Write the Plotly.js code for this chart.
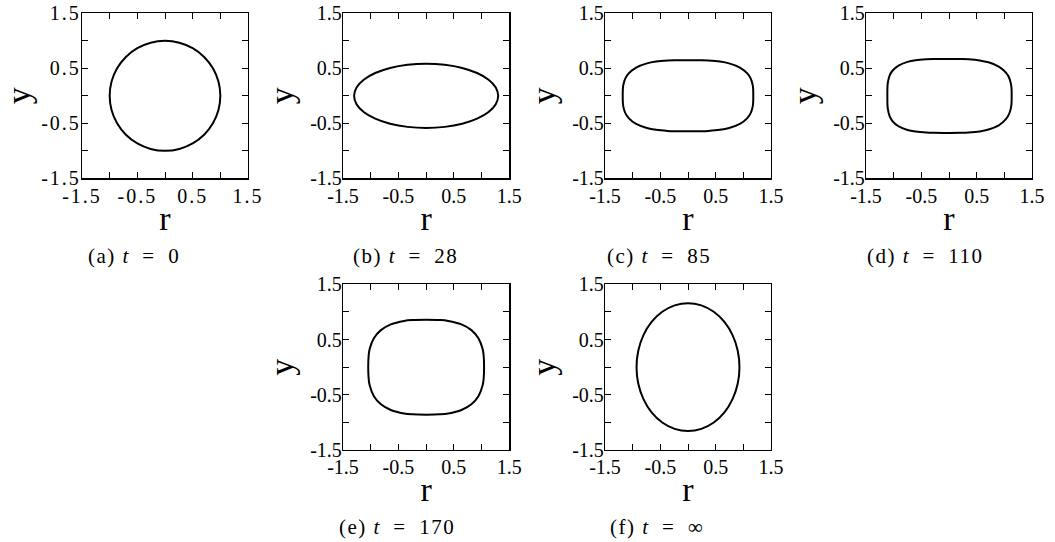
<!DOCTYPE html>
<html><head><meta charset="utf-8">
<script src="https://cdn.plot.ly/plotly-3.0.1.min.js"></script>
<style>
html,body{margin:0;padding:0;background:#fff;}
#chart{width:1055px;height:542px;}
.xtick text,.ytick text{letter-spacing:2px;}
.annotation-text{letter-spacing:1.5px;}
</style></head><body><div id="chart"></div><script>
// Tick values and labels (shared by all panels)
var tickVals = [-1.5, -1, -0.5, 0, 0.5, 1, 1.5];
var tickText = ['-1.5', '', '-0.5', '', '0.5', '', '1.5'];

// Panel captions
var panelLabels = ['(a)', '(b)', '(c)', '(d)', '(e)', '(f)'];
var timeLabels = ['0', '28', '85', '110', '170', '\u221e'];

// (a) t = 0
var rA = [1, 0.966, 0.866, 0.707, 0.5, 0.259, 0, -0.259, -0.5, -0.707, -0.866, -0.966, -1, -0.966, -0.866, -0.707, -0.5, -0.259, 0, 0.259, 0.5, 0.707, 0.866, 0.966, 1];
var yA = [0, 0.259, 0.5, 0.707, 0.866, 0.966, 1, 0.966, 0.866, 0.707, 0.5, 0.259, 0, -0.259, -0.5, -0.707, -0.866, -0.966, -1, -0.966, -0.866, -0.707, -0.5, -0.259, 0];

// (b) t = 28
var rB = [1.30, 1.256, 1.126, 0.919, 0.65, 0.336, 0, -0.336, -0.65, -0.919, -1.126, -1.256, -1.30, -1.256, -1.126, -0.919, -0.65, -0.336, 0, 0.336, 0.65, 0.919, 1.126, 1.256, 1.30];
var yB = [0, 0.152, 0.293, 0.414, 0.507, 0.565, 0.585, 0.565, 0.507, 0.414, 0.293, 0.152, 0, -0.152, -0.293, -0.414, -0.507, -0.565, -0.585, -0.565, -0.507, -0.414, -0.293, -0.152, 0];

// (c) t = 85
var rC = [1.18, 1.177, 1.168, 1.132, 1.072, 0.937, 0.743, 0.577, 0.367, 0.232, 0, -0.232, -0.367, -0.577, -0.743, -0.937, -1.072, -1.132, -1.168, -1.177, -1.18, -1.177, -1.168, -1.132, -1.072, -0.937, -0.743, -0.577, -0.367, -0.232, 0, 0.232, 0.367, 0.577, 0.743, 0.937, 1.072, 1.132, 1.168, 1.177, 1.18];
var yC = [0, 0.127, 0.202, 0.317, 0.408, 0.514, 0.589, 0.622, 0.641, 0.646, 0.648, 0.646, 0.641, 0.622, 0.589, 0.514, 0.408, 0.317, 0.202, 0.127, 0, -0.126, -0.201, -0.315, -0.406, -0.512, -0.586, -0.619, -0.638, -0.643, -0.645, -0.643, -0.638, -0.619, -0.586, -0.512, -0.406, -0.315, -0.201, -0.126, 0];

// (d) t = 110
var rD = [1.133, 1.13, 1.121, 1.087, 1.029, 0.899, 0.714, 0.554, 0.352, 0.223, 0, -0.276, -0.41, -0.604, -0.75, -0.913, -1.026, -1.075, -1.104, -1.112, -1.114, -1.112, -1.104, -1.075, -1.026, -0.913, -0.75, -0.604, -0.41, -0.276, 0, 0.223, 0.352, 0.554, 0.714, 0.899, 1.029, 1.087, 1.121, 1.13, 1.133];
var yD = [0, 0.132, 0.208, 0.328, 0.422, 0.532, 0.609, 0.643, 0.663, 0.668, 0.67, 0.669, 0.664, 0.647, 0.617, 0.549, 0.451, 0.363, 0.247, 0.166, 0, -0.167, -0.248, -0.366, -0.455, -0.554, -0.622, -0.651, -0.669, -0.674, -0.675, -0.673, -0.668, -0.648, -0.613, -0.536, -0.425, -0.33, -0.21, -0.133, 0];

// (e) t = 170
var rE = [1.045, 1.038, 1.019, 0.943, 0.816, 0.637, 0.398, 0.244, 0, -0.244, -0.398, -0.637, -0.816, -0.943, -1.019, -1.038, -1.045, -1.038, -1.019, -0.943, -0.816, -0.637, -0.398, -0.244, 0, 0.244, 0.398, 0.637, 0.816, 0.943, 1.019, 1.038, 1.045];
var yE = [0, 0.2, 0.327, 0.523, 0.67, 0.774, 0.837, 0.853, 0.858, 0.853, 0.837, 0.774, 0.67, 0.523, 0.327, 0.2, 0, -0.2, -0.328, -0.525, -0.672, -0.776, -0.839, -0.855, -0.86, -0.855, -0.839, -0.776, -0.672, -0.525, -0.328, -0.2, 0];

// (f) t = infinity
var rF = [0.93, 0.898, 0.805, 0.658, 0.465, 0.241, 0, -0.241, -0.465, -0.658, -0.805, -0.898, -0.93, -0.898, -0.805, -0.658, -0.465, -0.241, 0, 0.241, 0.465, 0.658, 0.805, 0.898, 0.93];
var yF = [0, 0.3, 0.579, 0.818, 1.002, 1.118, 1.157, 1.118, 1.002, 0.818, 0.579, 0.3, 0, -0.3, -0.579, -0.818, -1.002, -1.118, -1.157, -1.118, -1.002, -0.818, -0.579, -0.3, 0];

var curvesR = [rA, rB, rC, rD, rE, rF];
var curvesY = [yA, yB, yC, yD, yE, yF];

var W = 1055, H = 542;
// plot-box pixel boxes [left, right, top, bottom]
var boxes = [
  [82, 248, 13.3, 178.3],
  [343, 509.3, 13.3, 178.3],
  [605, 771, 13.3, 178.3],
  [866, 1032, 13.3, 178.3],
  [343, 509.3, 284.3, 450],
  [605, 771, 284.3, 450]
];
var captionPos = [[134, 256], [405, 256], [659, 256], [925, 256], [396.5, 527], [657, 527]];

var serif = '"Liberation Serif", "Times New Roman", serif';
var traces = [], layout = {
  width: W, height: H,
  margin: {l: 0, r: 0, t: 0, b: 0},
  paper_bgcolor: '#fff', plot_bgcolor: '#fff',
  showlegend: false,
  annotations: []
};

for (var i = 0; i < 6; i++) {
  var sfx = i === 0 ? '' : String(i + 1);
  traces.push({
    type: 'scatter', mode: 'lines',
    x: curvesR[i], y: curvesY[i],
    xaxis: 'x' + sfx, yaxis: 'y' + sfx,
    line: {color: '#000', width: 2, shape: 'spline', smoothing: 1, simplify: false},
    hoverinfo: 'skip'
  });
  var b = boxes[i];
  var common = {
    range: [-1.5, 1.5], tickmode: 'array', tickvals: tickVals, ticktext: tickText,
    ticks: 'inside', ticklen: 6, tickwidth: 1, tickcolor: '#000',
    showline: true, linecolor: '#000', linewidth: 1.2, mirror: 'ticks',
    showgrid: false, zeroline: false, fixedrange: true,
    tickfont: {family: serif, size: 20, color: '#000'}
  };
  var xa = Object.assign({}, common, {
    domain: [b[0] / W, b[1] / W],
    anchor: 'y' + sfx,
    ticklabelstandoff: -1,
    title: {text: 'r', font: {family: serif, size: 34, color: '#000'}, standoff: 0}
  });
  var ya = Object.assign({}, common, {
    domain: [(H - b[3]) / H, (H - b[2]) / H],
    anchor: 'x' + sfx,
    ticklabelstandoff: -4,
    title: {text: 'y', font: {family: serif, size: 34, color: '#000'}, standoff: 6}
  });
  layout['xaxis' + sfx] = xa;
  layout['yaxis' + sfx] = ya;
  layout.annotations.push({
    xref: 'paper', yref: 'paper',
    x: captionPos[i][0] / W, y: (H - captionPos[i][1]) / H,
    xanchor: 'center', yanchor: 'middle', showarrow: false,
    text: panelLabels[i] + ' <i>t</i> \u2009= \u2009' + timeLabels[i],
    font: {family: serif, size: 21, color: '#000'}
  });
}

Plotly.newPlot('chart', traces, layout, {staticPlot: true, displayModeBar: false});
</script></body></html>
